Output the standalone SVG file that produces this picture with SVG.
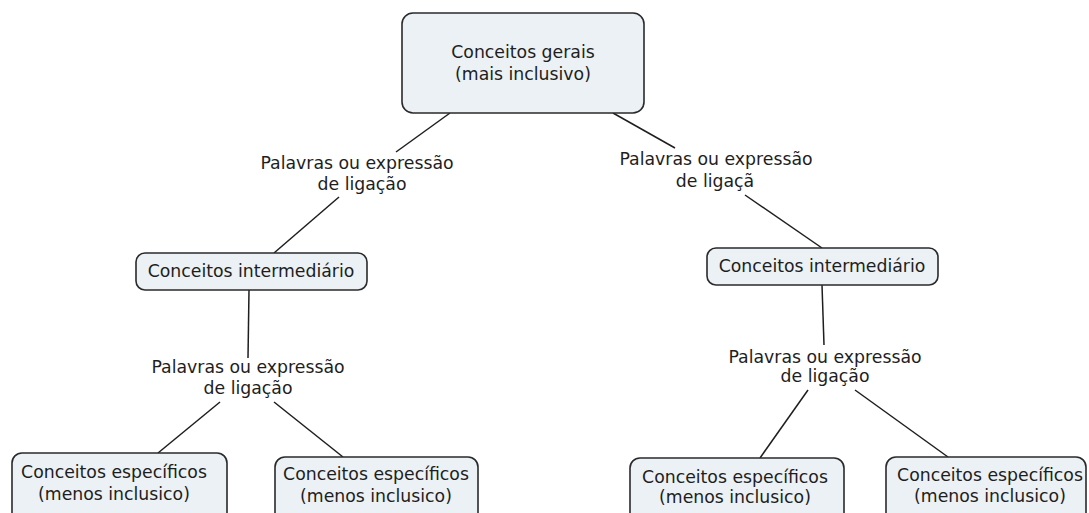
<svg xmlns="http://www.w3.org/2000/svg" width="1089" height="513" viewBox="0 0 1089 513">
<style>
.box{fill:#ebf1f4;stroke:#2a2a2a;stroke-width:1.6}
.t{font-family:"DejaVu Sans",Verdana,sans-serif;font-size:17.3px;fill:#1e1e1e;text-anchor:middle}
.c line{stroke:#1e1e1e;stroke-width:1.5}
</style>
<rect width="1089" height="513" fill="#ffffff"/>
<g class="c" id="connectors">
<line x1="450" y1="113" x2="396" y2="152"/>
<line x1="339" y1="197" x2="274" y2="253"/>
<line x1="613" y1="113" x2="675" y2="148"/>
<line x1="745" y1="195" x2="822" y2="248"/>
<line x1="249" y1="290" x2="248" y2="358"/>
<line x1="220" y1="402" x2="158" y2="453"/>
<line x1="274" y1="402" x2="343" y2="457"/>
<line x1="822" y1="285" x2="824" y2="345"/>
<line x1="808" y1="390" x2="760" y2="458"/>
<line x1="855" y1="390" x2="948" y2="457"/>
</g>
<g id="top">
<rect class="box" x="402" y="13" width="242" height="100" rx="11"/>
<text class="t" x="523" y="58">Conceitos gerais</text>
<text class="t" x="523" y="80">(mais inclusivo)</text>
</g>
<g id="link1">
<text class="t" x="357" y="169">Palavras ou expressão</text>
<text class="t" x="362" y="190">de ligação</text>
</g>
<g id="link2">
<text class="t" x="716" y="165">Palavras ou expressão</text>
<text class="t" x="715" y="187">de ligaçã</text>
</g>
<g id="mid1">
<rect class="box" x="136" y="253" width="231" height="37" rx="9"/>
<text class="t" x="251" y="277">Conceitos intermediário</text>
</g>
<g id="mid2">
<rect class="box" x="707" y="248" width="231" height="37" rx="9"/>
<text class="t" x="822" y="272">Conceitos intermediário</text>
</g>
<g id="link3">
<text class="t" x="248" y="373">Palavras ou expressão</text>
<text class="t" x="248" y="394">de ligação</text>
</g>
<g id="link4">
<text class="t" x="825" y="363">Palavras ou expressão</text>
<text class="t" x="825" y="382">de ligação</text>
</g>
<g id="spec1">
<rect class="box" x="12" y="453" width="215" height="80" rx="10"/>
<text class="t" x="114" y="478">Conceitos específicos</text>
<text class="t" x="114" y="500">(menos inclusico)</text>
</g>
<g id="spec2">
<rect class="box" x="275" y="457" width="203" height="80" rx="10"/>
<text class="t" x="376" y="480">Conceitos específicos</text>
<text class="t" x="376" y="502">(menos inclusico)</text>
</g>
<g id="spec3">
<rect class="box" x="630" y="458" width="214" height="80" rx="10"/>
<text class="t" x="735" y="483">Conceitos específicos</text>
<text class="t" x="735" y="503">(menos inclusico)</text>
</g>
<g id="spec4">
<rect class="box" x="886" y="457" width="200" height="80" rx="10"/>
<text class="t" x="990" y="481">Conceitos específicos</text>
<text class="t" x="990" y="502">(menos inclusico)</text>
</g>
</svg>
